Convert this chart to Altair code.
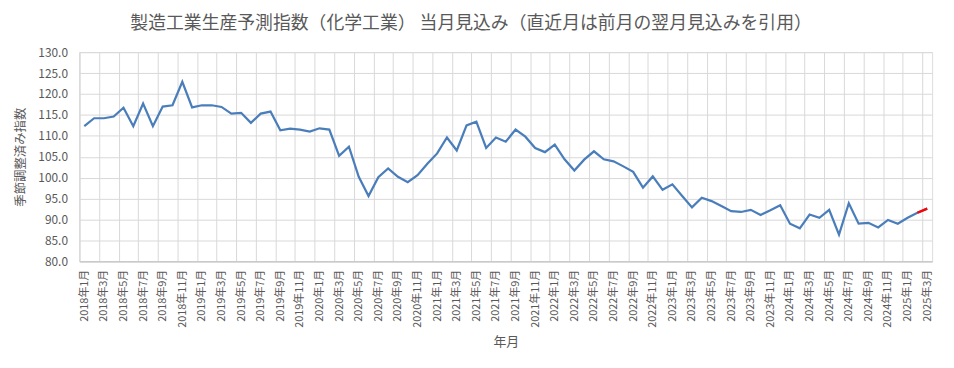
import altair as alt
import pandas as pd

labels = [f"{y}年{m}月" for y in range(2018, 2026) for m in range(1, 13)][:87]

values = [
    112.3, 114.2, 114.2, 114.6, 116.7, 112.3, 117.7, 112.3, 117.0, 117.3,
    122.9, 116.8, 117.3, 117.3, 116.9, 115.3, 115.5, 113.1, 115.3, 115.8,
    111.3, 111.7, 111.5, 111.0, 111.8, 111.5, 105.2, 107.4, 100.2, 95.6,
    100.1, 102.2, 100.2, 98.9, 100.6, 103.3, 105.8, 109.6, 106.5, 112.5,
    113.4, 107.1, 109.6, 108.6, 111.5, 109.8, 107.1, 106.1, 107.9, 104.4,
    101.7, 104.3, 106.3, 104.4, 103.9, 102.7, 101.4, 97.6, 100.3, 97.1,
    98.4, 95.6, 92.9, 95.2, 94.4, 93.2, 92.0, 91.8, 92.3, 91.1,
    92.2, 93.4, 89.0, 87.9, 91.2, 90.4, 92.3, 86.4, 93.9, 89.0,
    89.2, 88.1, 89.9, 89.0, 90.4, 91.6, 92.6,
]

y_ticks = [80, 85, 90, 95, 100, 105, 110, 115, 120, 125, 130]

title_text = "製造工業生産予測指数（化学工業） 当月見込み（直近月は前月の翌月見込みを引用）"
y_title = "季節調整済み指数"
x_title = "年月"

n = len(values)
df = pd.DataFrame({"idx": list(range(n)), "label": labels, "value": values})
df_red = df.iloc[n - 2:]

FONT = "Noto Sans CJK JP"
TXT = "#595959"
GRID = "#d9d9d9"

label_values = list(range(0, n, 2))
grid_values = [i - 0.5 for i in range(0, n, 2)]
label_js = "[" + ",".join("'" + s + "'" for s in labels) + "]"

xscale = alt.Scale(domain=[-0.5, n - 0.5], nice=False, zero=False)
yscale = alt.Scale(domain=[80, 130], nice=False, zero=False)


def y_enc():
    return alt.Y(
        "value:Q",
        scale=yscale,
        axis=alt.Axis(
            values=y_ticks, format=".1f", grid=True, gridColor=GRID,
            ticks=False, domainColor=GRID, labelColor=TXT, labelFont=FONT,
            labelFontSize=12, labelPadding=12, labelOverlap=False, title=y_title,
            titleFont=FONT, titleFontSize=12.5, titleColor=TXT, titleFontWeight="normal",
            titlePadding=10,
        ),
    )


grid_layer = alt.Chart(df).mark_line(opacity=0).encode(
    x=alt.X(
        "idx:Q", scale=xscale,
        axis=alt.Axis(values=grid_values, grid=True, gridColor=GRID, labels=False,
                      ticks=False, domain=False, orient="bottom", title=None),
    ),
    y=y_enc(),
)

blue = alt.Chart(df).mark_line(color="#4a7ebb", strokeWidth=2.25).encode(
    x=alt.X(
        "idx:Q", scale=xscale,
        axis=alt.Axis(
            values=label_values, labelExpr=label_js + "[datum.value]", grid=False,
            ticks=False, domainColor="#bfbfbf", labelAngle=-90, labelAlign="right",
            labelBaseline="middle", labelColor=TXT, labelFont=FONT, labelFontSize=11,
            labelPadding=8, labelOverlap=False, orient="bottom", title=x_title,
            titleFont=FONT, titleFontSize=13, titleColor=TXT, titleFontWeight="normal",
            titlePadding=8,
        ),
    ),
    y=y_enc(),
)

red = alt.Chart(df_red).mark_line(color="#FF0000", strokeWidth=2.25).encode(
    x=alt.X("idx:Q", scale=xscale, axis=None),
    y=y_enc(),
)

chart = (
    alt.layer(grid_layer, blue, red)
    .resolve_axis(x="independent")
    .properties(
        width=860, height=211,
        autosize=alt.AutoSizeParams(type="none"),
        padding={"left": 72, "top": 43, "right": 14, "bottom": 100},
        title=alt.TitleParams(title_text, font=FONT, fontSize=18, color=TXT,
                              fontWeight="normal", anchor="middle", dx=-35, offset=13),
    )
    .configure_view(stroke=None)
    .configure(background="white")
)

chart.save("out.html", embed_options={"renderer": "svg", "actions": False})
